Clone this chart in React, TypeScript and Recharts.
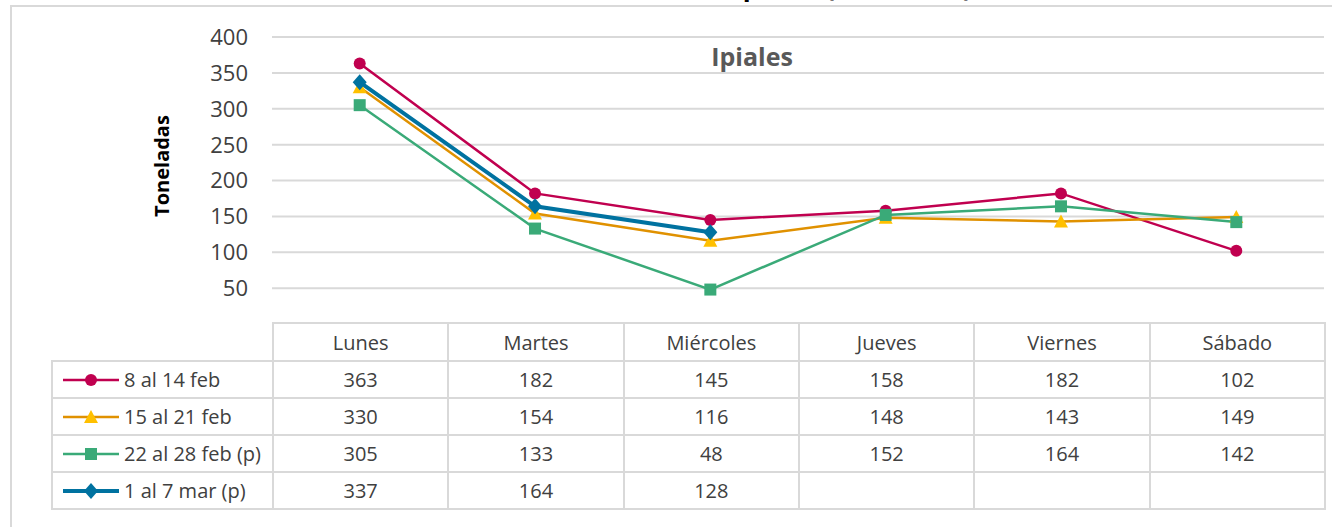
import React from 'react';
import { LineChart, Line, XAxis, YAxis, CartesianGrid } from 'recharts';

const days = ['Lunes', 'Martes', 'Miércoles', 'Jueves', 'Viernes', 'Sábado'];
const week1 = [363, 182, 145, 158, 182, 102];
const week2 = [330, 154, 116, 148, 143, 149];
const week3 = [305, 133, 48, 152, 164, 142];
const week4 = [337, 164, 128, null, null, null];
const yTicks = [50, 100, 150, 200, 250, 300, 350, 400];

const series = [
  { key: 'w1', name: '8 al 14 feb', values: week1, stroke: '#c0004f', fill: '#c0004f', marker: 'circle', width: 2.5 },
  { key: 'w2', name: '15 al 21 feb', values: week2, stroke: '#e09100', fill: '#ffc000', marker: 'triangle', width: 2.5 },
  { key: 'w3', name: '22 al 28 feb (p)', values: week3, stroke: '#3aaa78', fill: '#3aaa78', marker: 'square', width: 2.5 },
  { key: 'w4', name: '1 al 7 mar (p)', values: week4, stroke: '#0072a0', fill: '#0072a0', marker: 'diamond', width: 4 },
];

const data = days.map((d, i) => {
  const row: any = { day: d };
  series.forEach(s => { row[s.key] = s.values[i]; });
  return row;
});

const FONT = '"Open Sans", sans-serif';
const GRID = '#d9d9d9';
const TEXT = '#404040';

function Marker({ type, cx, cy, fill }: { type: string; cx: number; cy: number; fill: string }) {
  if (type === 'circle') return <circle cx={cx} cy={cy} r={6} fill={fill} />;
  if (type === 'triangle')
    return <polygon points={`${cx},${cy - 7} ${cx + 7},${cy + 6} ${cx - 7},${cy + 6}`} fill={fill} />;
  if (type === 'square') return <rect x={cx - 6} y={cy - 6} width={12} height={12} fill={fill} />;
  return <polygon points={`${cx},${cy - 8} ${cx + 7},${cy} ${cx},${cy + 8} ${cx - 7},${cy}`} fill={fill} />;
}

const makeDot = (type: string, fill: string) => (props: any) => {
  const { cx, cy, value, index } = props;
  if (value == null || cx == null || cy == null) return <g key={index} />;
  return <g key={index}><Marker type={type} cx={cx} cy={cy} fill={fill} /></g>;
};

const YTick = (props: any) => {
  const { y, payload } = props;
  return (
    <text x={248} y={y} dy="0.36em" textAnchor="end" fontSize={22} fill={TEXT} fontFamily={FONT}>
      {payload.value}
    </text>
  );
};

const cell: React.CSSProperties = {
  border: `2px solid ${GRID}`,
  textAlign: 'center',
  padding: 0,
  fontSize: 20,
  color: TEXT,
  fontFamily: FONT,
};

export default function App() {
  return (
    <div style={{ position: 'absolute', left: 0, top: 0, width: 1332, height: 527, background: '#fff', overflow: 'hidden' }}>
      {/* frame */}
      <div style={{ position: 'absolute', left: 10, top: 5, width: 1322, height: 2, background: GRID }} />
      <div style={{ position: 'absolute', left: 10, top: 5, width: 2, height: 522, background: GRID }} />

      <LineChart width={1332} height={324} data={data} margin={{ top: 37, right: 8, bottom: 0, left: 0 }}
        style={{ position: 'absolute', left: 0, top: 0 }}>
        <CartesianGrid vertical={false} stroke={GRID} strokeWidth={2} />
        <XAxis dataKey="day" hide padding={{ left: 87.7, right: 87.7 }} />
        <YAxis width={272} domain={[0, 400]} ticks={yTicks} axisLine={false} tickLine={false} tick={<YTick />} />
        {series.map(s => (
          <Line key={s.key} type="linear" dataKey={s.key} stroke={s.stroke} strokeWidth={s.width}
            dot={makeDot(s.marker, s.fill)} activeDot={false} isAnimationActive={false} />
        ))}
      </LineChart>

      <svg width={1332} height={324} style={{ position: 'absolute', left: 0, top: 0, pointerEvents: 'none' }}>
        {/* chart title, cut off at the top of the picture like the reference */}
        <text x={972} y={-4} textAnchor="end" fontSize={26} fontWeight="bold" fill="#000" fontFamily={FONT}>
          Abastecimiento Ipiales (toneladas)
        </text>
        <text x={752} y={66} textAnchor="middle" fontSize={25} fontWeight="bold" fill="#595959" fontFamily={FONT}>
          Ipiales
        </text>
        <text transform="translate(169,166) rotate(-90)" textAnchor="middle" fontSize={20} fontWeight="bold" fill="#000" fontFamily={FONT}>
          Toneladas
        </text>
      </svg>

      <table style={{ position: 'absolute', left: 51, top: 322, borderCollapse: 'collapse', tableLayout: 'fixed', width: 1273 }}>
        <colgroup>
          <col style={{ width: 221 }} />
          {days.map(d => <col key={d} style={{ width: 175.33 }} />)}
        </colgroup>
        <tbody>
          <tr style={{ height: 38 }}>
            <td style={{ ...cell, borderTop: 'none', borderLeft: 'none' }} />
            {days.map(d => <td key={d} style={cell}>{d}</td>)}
          </tr>
          {series.map(s => (
            <tr key={s.key} style={{ height: 37 }}>
              <td style={{ ...cell, textAlign: 'left' }}>
                <div style={{ display: 'flex', alignItems: 'center' }}>
                  <svg width={70} height={18} style={{ marginLeft: 8 }}>
                    <line x1={2} y1={9} x2={58} y2={9} stroke={s.stroke} strokeWidth={s.width} />
                    <Marker type={s.marker} cx={30} cy={9} fill={s.fill} />
                  </svg>
                  <span style={{ marginLeft: -7 }}>{s.name}</span>
                </div>
              </td>
              {s.values.map((v, i) => <td key={i} style={cell}>{v == null ? '' : v}</td>)}
            </tr>
          ))}
        </tbody>
      </table>
    </div>
  );
}
